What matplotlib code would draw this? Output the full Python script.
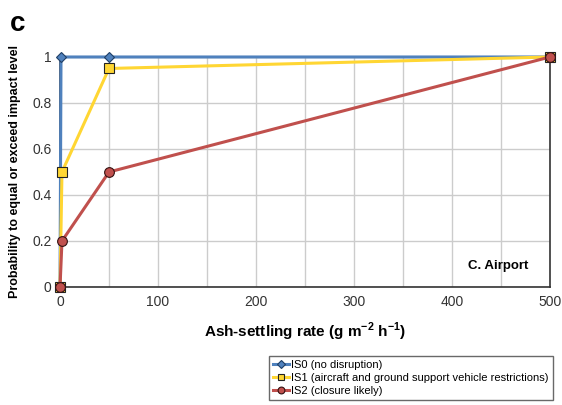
import numpy as np
import matplotlib
matplotlib.use('Agg')
import matplotlib.pyplot as plt

plt.rcParams['font.family'] = ['Liberation Sans', 'DejaVu Sans']

# data
is0_x = [0, 1, 50, 500]
is0_y = [0, 1, 1, 1]
is1_x = [0, 2, 50, 500]
is1_y = [0, 0.5, 0.95, 1]
is2_x = [0, 2, 50, 500]
is2_y = [0, 0.2, 0.5, 1]

labels = ['IS0 (no disruption)',
          'IS1 (aircraft and ground support vehicle restrictions)',
          'IS2 (closure likely)']

blue = '#4F81BD'
yellow = '#FFD633'
red = '#C0504D'

fig = plt.figure(figsize=(5.62, 4.05), dpi=100)
ax = fig.add_axes([0.1068, 0.2914, 0.8718, 0.5679])

l0, = ax.plot(is0_x, is0_y, color=blue, lw=2.2, marker='D', ms=5.5,
              mfc=blue, mec='#1F3F66', mew=0.8, zorder=3, clip_on=False)
l1, = ax.plot(is1_x, is1_y, color=yellow, lw=2.2, marker='s', ms=7,
              mfc=yellow, mec='#222222', mew=0.8, zorder=4, clip_on=False)
l2, = ax.plot(is2_x, is2_y, color=red, lw=2.2, marker='o', ms=7,
              mfc=red, mec='#331111', mew=0.8, zorder=5, clip_on=False)

ax.set_xlim(0, 500)
ax.set_ylim(0, 1)
ax.set_xticks(np.arange(0, 501, 100))
ax.set_xticks(np.arange(0, 501, 50), minor=True)
ax.set_yticks(np.arange(0, 1.01, 0.2))
ax.set_yticklabels(['0', '0.2', '0.4', '0.6', '0.8', '1'])
ax.grid(True, which='both', color='#CCCCCC', lw=1.0)
ax.set_axisbelow(True)
ax.tick_params(which='both', length=0, labelsize=10, colors='#333333', pad=6)
for s in ax.spines.values():
    s.set_color('#333333')
    s.set_linewidth(1.2)

ax.set_xlabel(r'Ash-settling rate (g m$^{\mathregular{-2}}$ h$^{\mathregular{-1}}$)',
              fontsize=11, fontweight='bold', labelpad=8)
ax.set_ylabel('Probability to equal or exceed impact level', fontsize=9,
              fontweight='bold', labelpad=8)
ax.text(0.955, 0.065, 'C. Airport', transform=ax.transAxes, ha='right',
        va='bottom', fontsize=9.5, fontweight='bold')

fig.text(0.018, 0.94, 'c', fontsize=20, fontweight='bold', va='center')

leg = fig.legend([l0, l1, l2], labels, loc='lower left',
                 bbox_to_anchor=(0.478, 0.012), fontsize=8, frameon=True,
                 fancybox=False, handlelength=1.5, handletextpad=0.2,
                 borderpad=0.35, labelspacing=0.3, borderaxespad=0,
                 markerscale=0.7)
leg.get_frame().set_edgecolor('#444444')
leg.get_frame().set_linewidth(1.0)

fig.savefig('out.png', dpi=100)
